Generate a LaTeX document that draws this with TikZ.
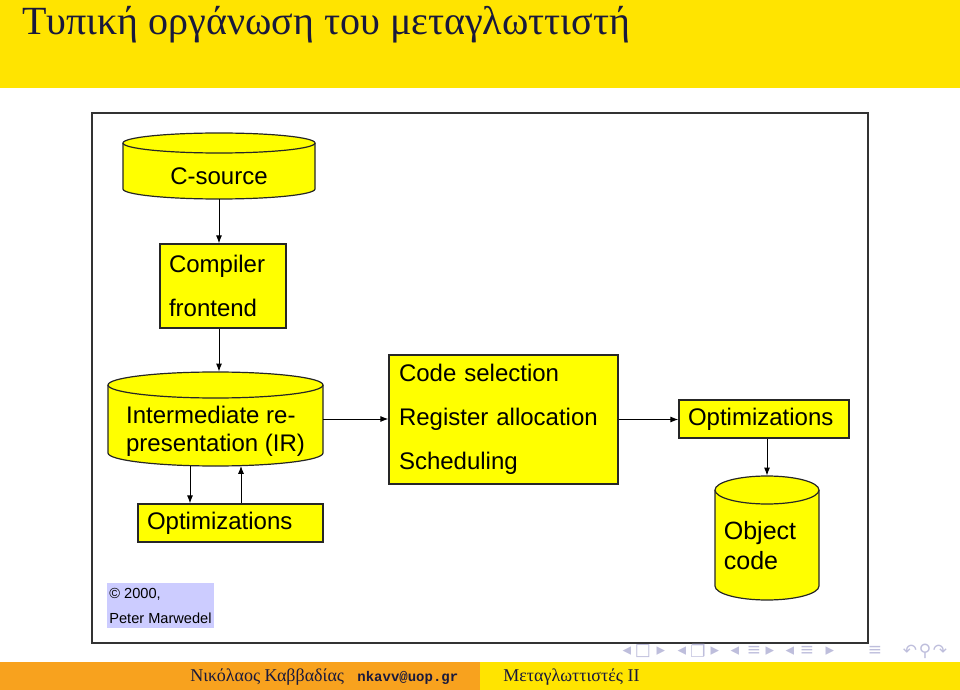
\documentclass[tikz,border=0pt]{standalone}
\usepackage{fontspec}
\setmainfont{Liberation Serif}
\setmonofont{Liberation Mono}
\newfontfamily\diagfont{Liberation Sans}
\newfontfamily\navfont{DejaVu Sans}
\usetikzlibrary{arrows.meta}

\definecolor{titleyellow}{RGB}{255,228,0}
\definecolor{footorange}{RGB}{248,162,30}
\definecolor{boxyellow}{RGB}{255,255,0}
\definecolor{cpyblue}{RGB}{204,204,255}
\definecolor{navgray}{RGB}{190,190,220}
\definecolor{titleink}{RGB}{25,25,60}

% text lowered inside a drum, size kept
\newcommand{\dropby}[2]{\raisebox{-#1}[\height][\depth]{#2}}
% drum outline: centre x, centre y, width, height, cap radius (px)
\newcommand{\drum}[5]{%
  \filldraw[drumline] ({#1-#3/2},{#2-#4/2+#5}) -- ({#1-#3/2},{#2+#4/2-#5})
    arc[start angle=180,end angle=0,x radius={#3/2},y radius=#5]
    -- ({#1+#3/2},{#2-#4/2+#5})
    arc[start angle=0,end angle=-180,x radius={#3/2},y radius=#5] -- cycle;
  \draw[drumline] ({#1-#3/2},{#2-#4/2+#5})
    arc[start angle=180,end angle=0,x radius={#3/2},y radius=#5];
}

\begin{document}
\begin{tikzpicture}[x=0.5pt,y=-0.5pt,
  box/.style={draw=black!85,line width=0.6pt,fill=boxyellow,inner ysep=0pt,
    font=\diagfont\fontsize{12}{22}\selectfont,align=left},
  drumline/.style={draw=black!85,line width=0.6pt,fill=boxyellow},
  drumtext/.style={inner sep=0pt,font=\diagfont\fontsize{12}{14}\selectfont},
  flow/.style={-{Latex[length=4pt,width=3pt]},line width=0.5pt},
  navsym/.style={font=\navfont\fontsize{8.5}{9}\selectfont,text=navgray,inner sep=0pt}]

\useasboundingbox (0,0) rectangle (960,690);

% slide head and foot
\fill[titleyellow] (0,0) rectangle (960,88);
\node[anchor=base west,font=\fontsize{20}{24}\selectfont,text=titleink,inner sep=0pt] (title) at (22,35) {Τυπική οργάνωση του μεταγλωττιστή};
\fill[footorange] (0,662) rectangle (480,690);
\fill[titleyellow] (480,662) rectangle (960,690);
\node[anchor=base west,font=\fontsize{9}{10}\selectfont,text=titleink,inner sep=0pt] (author) at (190,681) {Νικόλαος Καββαδίας};
\node[anchor=base west,font=\ttfamily\bfseries\fontsize{7}{10}\selectfont,text=titleink,inner sep=0pt] (mail) at (357,681) {nkavv@uop.gr};
\node[anchor=base west,font=\fontsize{9}{10}\selectfont,text=titleink,inner sep=0pt] (course) at (503,681) {Μεταγλωττιστές II};

% figure frame
\draw[black!80,line width=0.9pt] (92,113) rectangle (868,643);

% drums
\drum{219}{166}{192}{66}{10}
\drum{215.5}{419}{215}{94}{13}
\drum{767}{538}{104}{124}{14}

% nodes
\node[drumtext,minimum width=96pt,minimum height=33pt] (csrc) at (219,166) {\dropby{5pt}{C-source}};
\node[box,inner xsep=4.5pt,text width=54pt,minimum height=42pt] (front) at (223,286) {Compiler\\frontend};
\node[drumtext,minimum width=107.5pt,minimum height=47pt] (ir) at (215.5,419)
  {\dropby{6.5pt}{\begin{tabular}{@{}l@{}}Intermediate re-\\presentation (IR)\end{tabular}}};
\node[box,inner xsep=4.5pt,text width=83.5pt,minimum height=19pt] (opt1) at (230.5,523) {Optimizations};
\node[box,inner xsep=5pt,text width=104.5pt,minimum height=64.5pt] (cgen) at (503.5,419.5) {Code selection\\Register allocation\\Scheduling};
\node[box,inner xsep=4.5pt,text width=76pt,minimum height=19pt] (opt2) at (764,419) {Optimizations};
\node[drumtext,minimum width=52pt,minimum height=62pt,font=\diagfont\fontsize{12.5}{15}\selectfont] (obj) at (767,538)
  {\dropby{5.5pt}{\begin{tabular}{@{}l@{\hspace{7pt}}}Object\\code\end{tabular}}};
\node[fill=cpyblue,minimum width=53.5pt,minimum height=22.5pt,inner sep=0.5pt,align=left,
  font=\diagfont\fontsize{7.3}{12.5}\selectfont] (cpy) at (160.5,605.5) {© 2000,\\Peter Marwedel};

% connectors
\draw[flow] (csrc.south) -- (csrc.south |- front.north);
\draw[flow] (csrc.south |- front.south) -- (csrc.south |- ir.north);
\draw[flow] ([xshift=-12.75pt]ir.south) -- ([xshift=-12.75pt]ir.south |- opt1.north);
\draw[flow] ([xshift=12.75pt]ir.south |- opt1.north) -- ([xshift=12.75pt,yshift=0.3pt]ir.south);
\draw[flow] (ir.east) -- (ir.east -| cgen.west);
\draw[flow] (cgen.east) -- (cgen.east -| opt2.west);
\draw[flow] (obj.north |- opt2.south) -- (obj.north);

% navigation symbols
\foreach \x/\sym [count=\i] in {627/◂,643/□,661/▸,682/◂,698/❐,715/▸,735/◂,754/≡,770/▸,790/◂,807/≡,830/▸,875/≡,910/↶,925/⚲,940/↷}
  \node[navsym] (nav\i) at (\x,651) {\sym};
\end{tikzpicture}
\end{document}
